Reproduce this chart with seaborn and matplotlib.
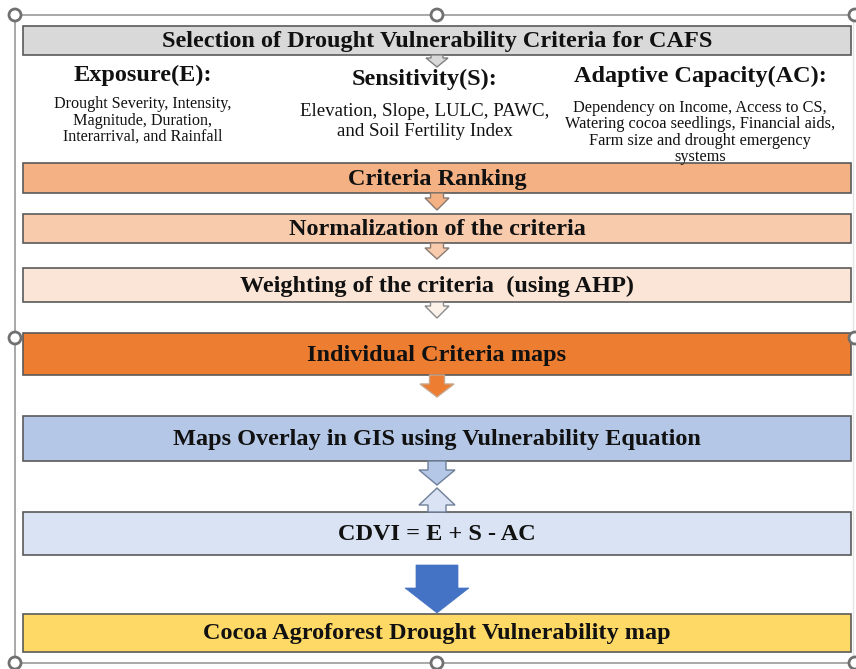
import matplotlib
matplotlib.use("Agg")
import matplotlib.pyplot as plt
from matplotlib.patches import Rectangle, Polygon, Circle
import seaborn as sns

sns.set_theme(style="white")
plt.rcParams['font.family'] = ['Liberation Serif', 'DejaVu Serif']

# ------------------ content ------------------
title_text = "Selection of Drought Vulnerability Criteria for CAFS"
group_titles = ["Exposure(E):", "Sensitivity(S):", "Adaptive Capacity(AC):"]
group_items = [
    ["Drought Severity, Intensity,", "Magnitude, Duration,", "Interarrival, and Rainfall"],
    ["Elevation, Slope, LULC, PAWC,", "and Soil Fertility Index"],
    ["Dependency on Income, Access to CS,", "Watering cocoa seedlings, Financial aids,",
     "Farm size and drought emergency", "systems"],
]
step_labels = ["Criteria Ranking", "Normalization of the criteria",
               "Weighting of the criteria  (using AHP)", "Individual Criteria maps",
               "Maps Overlay in GIS using Vulnerability Equation", "CDVI = E + S - AC",
               "Cocoa Agroforest Drought Vulnerability map"]
step_colors = ["#f4b183", "#f8cbad", "#fbe5d6", "#ed7d31", "#b4c7e7", "#dae3f3", "#ffd966"]

# ------------------ layout (pixels) ------------------
W, H = 856, 669
box_x0, box_x1 = 23, 851
step_tops = [163, 214, 268, 333, 416, 512, 614]
step_bots = [193, 243, 302, 375, 461, 555, 652]
group_x = [143, 425, 700]
group_title_y = [75, 79, 76]
group_item_y = [[104, 121, 137], [112, 131], [108, 124, 141, 157]]
group_item_fs = [11.6, 13.6, 11.7]
big_fs = 17.5

fig = plt.figure(figsize=(W / 100, H / 100), dpi=100)
ax = fig.add_axes([0, 0, 1, 1])
ax.set_xlim(0, W)
ax.set_ylim(H, 0)
ax.axis('off')

edge = "#5a5a5a"

def down_arrow(cx, y0, yneck, ytip, sw, hw, fc, ec=edge, lw=1.0):
    pts = [(cx - sw, y0), (cx + sw, y0), (cx + sw, yneck), (cx + hw, yneck),
           (cx, ytip), (cx - hw, yneck), (cx - sw, yneck)]
    ax.add_patch(Polygon(pts, closed=True, facecolor=fc, edgecolor=ec, lw=lw, zorder=3))

# outer selection frame
frame_c = "#9a9a9a"
ax.plot([15, 853], [15, 15], color=frame_c, lw=1.2, zorder=1)
ax.plot([15, 15], [15, 663], color=frame_c, lw=1.2, zorder=1)
ax.plot([15, 856], [663, 663], color=frame_c, lw=1.2, zorder=1)
ax.plot([853, 853], [15, 663], color="#e4e4e4", lw=1.0, zorder=1)

# title box
ax.add_patch(Rectangle((box_x0, 26), box_x1 - box_x0, 29, facecolor="#d9d9d9",
                       edgecolor=edge, lw=1.2, zorder=2))
ax.text(437, 41, title_text, ha='center', va='center', fontsize=big_fs,
        fontweight='bold', color="#111111", zorder=4)
down_arrow(437, 55, 58, 67, 6, 11, "#d9d9d9", ec="#808080")

# the three groups
for gx, gty, gt, items, iys, fs in zip(group_x, group_title_y, group_titles,
                                       group_items, group_item_y, group_item_fs):
    ax.text(gx, gty, gt, ha='center', va='center', fontsize=big_fs,
            fontweight='bold', color="#111111", zorder=4)
    for it, iy in zip(items, iys):
        ax.text(gx, iy, it, ha='center', va='center', fontsize=fs,
                color="#111111", zorder=4)

# step boxes
for lab, col, t, b in zip(step_labels, step_colors, step_tops, step_bots):
    ax.add_patch(Rectangle((box_x0, t), box_x1 - box_x0, b - t, facecolor=col,
                           edgecolor=edge, lw=1.2, zorder=2))
    ax.text(437, (t + b) / 2 + 1, lab, ha='center', va='center', fontsize=big_fs,
            fontweight='bold', color="#111111", zorder=4)

# arrows between boxes
down_arrow(437, 193, 198, 210, 6.5, 12, step_colors[0], ec="#8a7a70")
down_arrow(437, 243, 248, 259, 6.5, 12, step_colors[1], ec="#8a7a70")
down_arrow(437, 302, 306, 318, 6.5, 12, "#fdf2ea", ec="#8a8a8a")
down_arrow(437, 375, 384, 397, 7.5, 17, step_colors[3], ec="#c9a58a")
down_arrow(437, 461, 470, 485, 9, 18, step_colors[4], ec="#6f7f99")
down_arrow(437, 512, 505, 488, 9, 18, step_colors[5], ec="#6f7f99")
down_arrow(437, 565, 588, 613, 21, 32, "#4472c4", ec="#4472c4", lw=0.5)

# selection handles
for hx, hy in [(15, 15), (437, 15), (855, 15), (15, 338), (855, 338),
               (15, 663), (437, 663), (855, 663)]:
    ax.add_patch(Circle((hx, hy), 6, facecolor="white", edgecolor="#707070",
                        lw=2, zorder=5))

fig.savefig("out.png", dpi=100)
plt.close(fig)
